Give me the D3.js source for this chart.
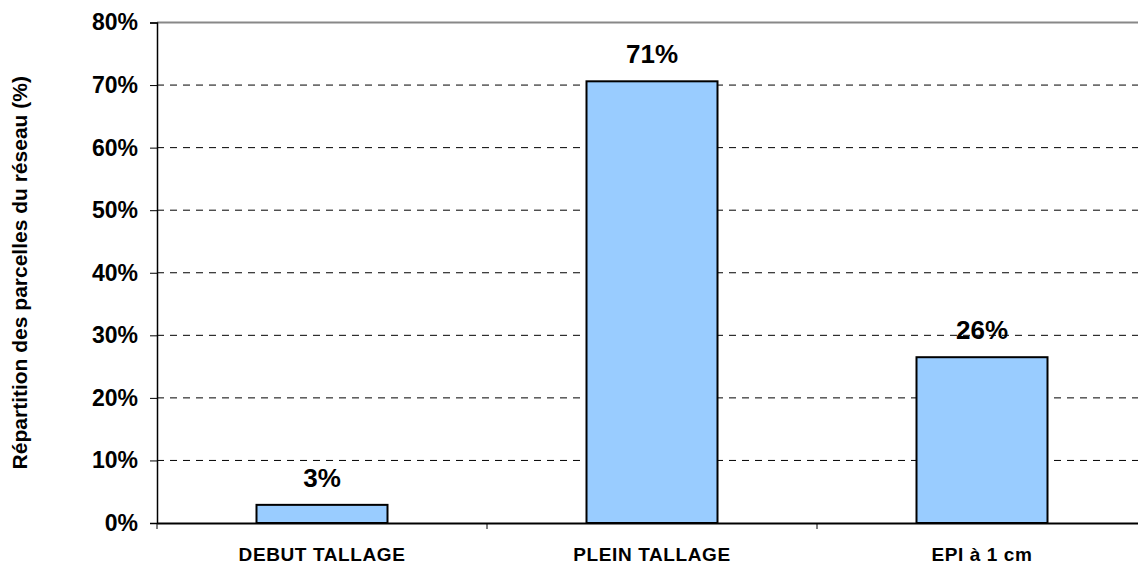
<!DOCTYPE html>
<html>
<head>
<meta charset="utf-8">
<script src="https://cdn.jsdelivr.net/npm/d3@7"></script>
<style>
  body { margin: 0; background: #fff; }
  text { font-family: "Liberation Sans", Arial, sans-serif; font-weight: bold; }
</style>
</head>
<body>
<script>
// chart data
var categories = ["DEBUT TALLAGE", "PLEIN TALLAGE", "EPI à 1 cm"];
var values = [0.029, 0.706, 0.265];
var valueLabels = ["3%", "71%", "26%"];
var yTicks = [0, 0.1, 0.2, 0.3, 0.4, 0.5, 0.6, 0.7, 0.8];

var svgWidth = 1138, svgHeight = 564;
var margin = { top: 22.5, right: -9, bottom: 41, left: 157 };
var width = svgWidth - margin.left - margin.right;
var height = svgHeight - margin.top - margin.bottom;

var svg = d3.select("body").append("svg")
  .attr("width", svgWidth)
  .attr("height", svgHeight);

var chart = svg.append("g")
  .attr("transform", `translate(${margin.left}, ${margin.top})`);

var x = d3.scaleBand().domain(categories).range([0, width]).paddingInner(0).paddingOuter(0);
var y = d3.scaleLinear().domain([0, 0.8]).range([height, 0]);

// gridlines
chart.selectAll(".grid")
  .data(yTicks.filter(d => d > 0 && d < 0.8))
  .enter().append("line")
  .attr("x1", 0).attr("x2", width)
  .attr("y1", d => y(d)).attr("y2", d => y(d))
  .attr("stroke", "#000")
  .attr("stroke-width", 1)
  .attr("stroke-dasharray", "7,6");

// top border
chart.append("line")
  .attr("x1", 0).attr("x2", width)
  .attr("y1", y(0.8)).attr("y2", y(0.8))
  .attr("stroke", "#888").attr("stroke-width", 2);

// y axis
var yAxis = d3.axisLeft(y).tickValues(yTicks).tickFormat(d3.format(".0%")).tickSize(7).tickPadding(12);
var gy = chart.append("g").call(yAxis);
gy.select(".domain").attr("stroke", "#000").attr("stroke-width", 1.5);
gy.selectAll(".tick line").attr("stroke", "#000");
gy.selectAll("text").style("font-size", "23px").attr("fill", "#000");

// x axis
var xAxis = d3.axisBottom(x).tickSize(0).tickPadding(25);
var gx = chart.append("g").attr("transform", `translate(0, ${height})`).call(xAxis);
gx.select(".domain").attr("stroke", "#000").attr("stroke-width", 2);
gx.selectAll("text").style("font-size", "19px").style("letter-spacing", "0.6px").attr("fill", "#000");
gx.selectAll(".boundary")
  .data(categories)
  .enter().append("line")
  .attr("x1", d => x(d)).attr("x2", d => x(d))
  .attr("y1", 0).attr("y2", 6)
  .attr("stroke", "#000");

// bars
var barW = 131;
chart.selectAll(".bar")
  .data(values)
  .enter().append("rect")
  .attr("x", (d, i) => x(categories[i]) + x.bandwidth() / 2 - barW / 2)
  .attr("y", d => y(d))
  .attr("width", barW)
  .attr("height", d => height - y(d))
  .attr("fill", "#99ccff")
  .attr("stroke", "#000")
  .attr("stroke-width", 2);

// value labels
chart.selectAll(".vlabel")
  .data(values)
  .enter().append("text")
  .attr("x", (d, i) => x(categories[i]) + x.bandwidth() / 2)
  .attr("y", d => y(d) - 18)
  .attr("text-anchor", "middle")
  .style("font-size", "26px")
  .text((d, i) => valueLabels[i]);

// axis title
svg.append("text")
  .attr("transform", `translate(27, ${margin.top + height / 2}) rotate(-90)`)
  .attr("text-anchor", "middle")
  .style("font-size", "21px")
  .text("Répartition des parcelles du réseau (%)");
</script>
</body>
</html>
